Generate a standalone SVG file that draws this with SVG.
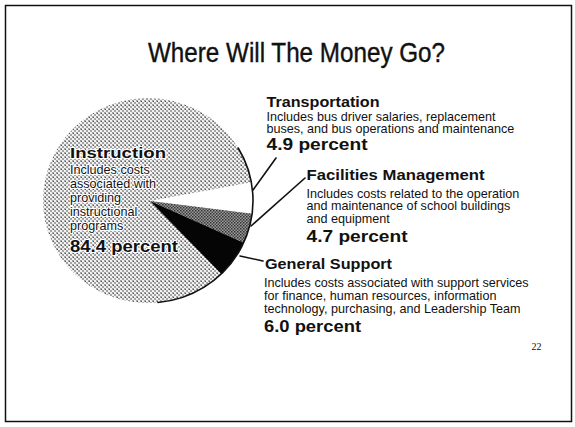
<svg xmlns="http://www.w3.org/2000/svg" width="575" height="427" viewBox="0 0 575 427">
<style>
text { font-family: "Liberation Sans", Arial, Helvetica, sans-serif; fill: #111; }
.t { font-size: 28px; stroke: #111; stroke-width: 0.4; }
.h { font-size: 15px; font-weight: bold; }
.b { font-size: 12.6px; }
.p { font-size: 16.5px; font-weight: bold; }
.halo { paint-order: stroke; stroke: #fff; stroke-width: 2.2px; stroke-linejoin: round; }
.lead { stroke: #111; stroke-width: 1.6; fill: none; stroke-linecap: round; }
.pg { font-family: "Liberation Serif", "Times New Roman", serif; font-size: 10px; }
</style>
<defs>
<pattern id="light" width="4" height="4" patternUnits="userSpaceOnUse">
<rect width="4" height="4" fill="#f2f2f2"/>
<rect x="0" y="0" width="2" height="2" fill="#a4a4a4"/>
<rect x="2" y="2" width="2" height="2" fill="#a4a4a4"/>
<rect x="1" y="1" width="1" height="1" fill="#555"/>
</pattern>
<pattern id="dark" width="3" height="3" patternUnits="userSpaceOnUse">
<rect width="3" height="3" fill="#9a9a9a"/>
<rect x="0" y="0" width="1.5" height="1.5" fill="#333"/>
<rect x="1.5" y="1.5" width="1.5" height="1.5" fill="#444"/>
</pattern>
</defs>
<rect x="5.5" y="5.5" width="566" height="416" fill="#fff" stroke="#111" stroke-width="1.5"/>
<g id="title">
<text class="t" x="148" y="62" textLength="297" lengthAdjust="spacingAndGlyphs">Where Will The Money Go?</text>
</g>
<g id="instruction">
<ellipse cx="148" cy="200.5" rx="105" ry="102.5" fill="url(#light)"/>
<text class="h halo" x="70" y="158.3" textLength="96" lengthAdjust="spacingAndGlyphs">Instruction</text>
<text class="b halo" x="70" y="174">Includes costs</text>
<text class="b halo" x="70" y="188">associated with</text>
<text class="b halo" x="70" y="202">providing</text>
<text class="b halo" x="70" y="216">instructional</text>
<text class="b halo" x="70" y="230">programs</text>
<text class="p halo" x="70" y="251.5" textLength="108" lengthAdjust="spacingAndGlyphs">84.4 percent</text>
</g>
<g id="transportation">
<path d="M150,201 L251.3,182.2 A105,102.5 0 0 1 252.1,213.7 Z" fill="#fff"/>
<text class="h" x="266.5" y="107" textLength="113" lengthAdjust="spacingAndGlyphs">Transportation</text>
<text class="b" x="266.5" y="120.5">Includes bus driver salaries, replacement</text>
<text class="b" x="266.5" y="133">buses, and bus operations and maintenance</text>
<text class="p" x="266.5" y="149.5" textLength="101" lengthAdjust="spacingAndGlyphs">4.9 percent</text>
</g>
<g id="facilities">
<path d="M150,201 L252.1,213.7 A105,102.5 0 0 1 243.7,242.7 Z" fill="url(#dark)"/>
<text class="h" x="306.5" y="180" textLength="178" lengthAdjust="spacingAndGlyphs">Facilities Management</text>
<text class="b" x="306.5" y="197.5">Includes costs related to the operation</text>
<text class="b" x="306.5" y="210.3">and maintenance of school buildings</text>
<text class="b" x="306.5" y="223">and equipment</text>
<text class="p" x="306.5" y="241.7" textLength="101" lengthAdjust="spacingAndGlyphs">4.7 percent</text>
</g>
<g id="general-support">
<path d="M150,201 L243.7,242.7 A105,102.5 0 0 1 221.4,273.9 Z" fill="#050505"/>
<text class="h" x="265" y="268.5" textLength="127" lengthAdjust="spacingAndGlyphs">General Support</text>
<text class="b" x="264" y="286.5">Includes costs associated with support services</text>
<text class="b" x="264" y="299.5">for finance, human resources, information</text>
<text class="b" x="264" y="312.5">technology, purchasing, and Leadership Team</text>
<text class="p" x="264" y="331.5" textLength="97" lengthAdjust="spacingAndGlyphs">6.0 percent</text>
</g>
<g id="connectors">
<path class="lead" d="M238.2,148 A105,102.5 0 0 1 158,302.5" stroke-width="1.4"/>
<line class="lead" x1="253" y1="190" x2="276" y2="158"/>
<line class="lead" x1="251" y1="226" x2="305" y2="178"/>
<line class="lead" x1="240" y1="256" x2="263" y2="261"/>
</g>
<g id="page-number">
<text class="pg" x="531.5" y="350">22</text>
</g>
</svg>
